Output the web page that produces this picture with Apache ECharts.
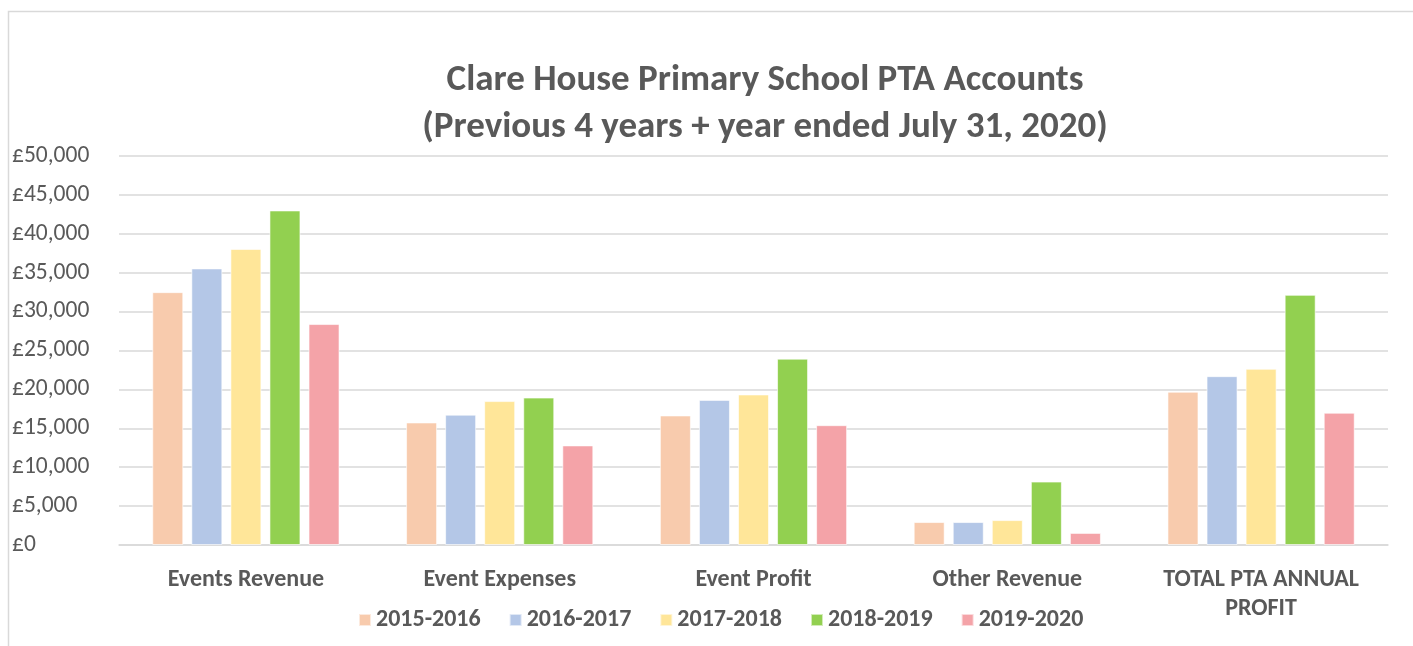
<!DOCTYPE html>
<html>
<head>
<meta charset="utf-8">
<script src="https://cdn.jsdelivr.net/npm/echarts@6/dist/echarts.min.js"></script>
<style>
  html, body { margin: 0; padding: 0; background: #fff; }
  #chart { width: 1413px; height: 646px; }
</style>
</head>
<body>
<div id="chart"></div>
<script>
// categories and per-year values
const categories = ['Events Revenue', 'Event Expenses', 'Event Profit', 'Other Revenue', 'TOTAL PTA ANNUAL\nPROFIT']
const years = ['2015-2016', '2016-2017', '2017-2018', '2018-2019', '2019-2020']
const values2015 = [32500, 15750, 16650, 2950, 19700]
const values2016 = [35550, 16750, 18650, 2950, 21700]
const values2017 = [38050, 18500, 19350, 3200, 22650]
const values2018 = [43000, 18950, 23950, 8150, 32150]
const values2019 = [28400, 12800, 15400, 1550, 17000]
const colors = ['#F8CBAD', '#B4C7E7', '#FFE699', '#92D050', '#F4A3A8']

const textColor = '#595959'
const fontFamily = 'Carlito, Calibri, "Open Sans", "Noto Sans", sans-serif'

const allValues = [values2015, values2016, values2017, values2018, values2019]

const myChart = echarts.init(document.getElementById('chart'))

let option = {
  color: colors,
  textStyle: { fontFamily: fontFamily },
  title: {
    text: 'Clare House Primary School PTA Accounts\n(Previous 4 years + year ended July 31, 2020)',
    left: 760,
    textAlign: 'center',
    top: 52,
    textStyle: {
      color: textColor,
      fontSize: 37,
      fontWeight: 'bold',
      lineHeight: 47,
      fontFamily: fontFamily
    }
  },
  graphic: [{
    type: 'rect',
    shape: { x: 8.5, y: 11.5, width: 1430, height: 660 },
    style: { fill: 'none', stroke: '#d9d9d9', lineWidth: 1.5 },
    silent: true
  }],
  legend: {
    top: 603,
    left: 353,
    itemWidth: 12,
    itemHeight: 12,
    itemGap: 28,
    icon: 'rect',
    textStyle: { color: textColor, fontSize: 24, fontWeight: 'bold', fontFamily: fontFamily },
    data: years
  },
  grid: {
    left: 119,
    right: 25,
    top: 156,
    bottom: 101
  },
  xAxis: {
    type: 'category',
    data: categories,
    axisLine: { lineStyle: { color: '#d9d9d9', width: 1.5 } },
    axisTick: { show: false },
    axisLabel: {
      interval: 0,
      color: textColor,
      fontSize: 24,
      fontWeight: 'bold',
      margin: 20,
      lineHeight: 29,
      fontFamily: fontFamily
    }
  },
  yAxis: {
    type: 'value',
    min: 0,
    max: 50000,
    interval: 5000,
    axisLine: { show: false },
    axisTick: { show: false },
    splitLine: { lineStyle: { color: '#d9d9d9', width: 1.5 } },
    axisLabel: {
      color: textColor,
      fontSize: 23.5,
      align: 'left',
      margin: 107,
      fontFamily: fontFamily,
      formatter: function (v) {
        return '£' + v.toLocaleString('en-GB')
      }
    }
  },
  series: years.map(function (name, i) {
    return {
      name: name,
      type: 'bar',
      barWidth: 31,
      barGap: '26%',
      itemStyle: { borderColor: 'rgba(255,255,255,0.6)', borderWidth: 1 },
      data: allValues[i]
    }
  })
}

myChart.setOption(option)
</script>
</body>
</html>
